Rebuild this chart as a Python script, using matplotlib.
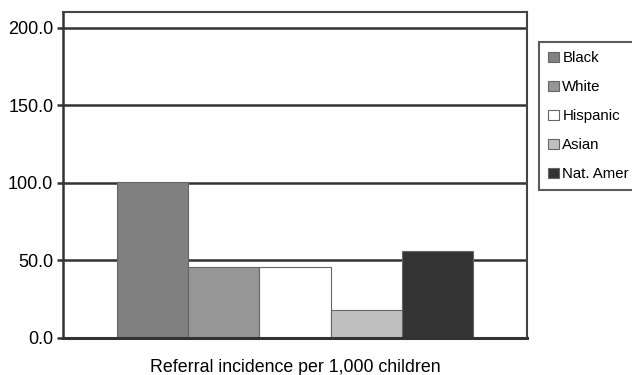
import matplotlib.pyplot as plt

groups = ['Black', 'White', 'Hispanic', 'Asian', 'Nat. Amer']
rates = [100.3, 45.6, 45.6, 18.0, 56.2]
colors = ['#808080', '#969696', '#ffffff', '#c0c0c0', '#333333']
yticks = [0, 50, 100, 150, 200]

plt.rcParams['font.family'] = ['Liberation Sans', 'DejaVu Sans']

fig = plt.figure(figsize=(6.32, 3.75), dpi=100)
ax = fig.add_axes([0.0997, 0.0987, 0.7343, 0.8693])

for i, (g, r, c) in enumerate(zip(groups, rates, colors)):
    ax.bar(i, r, width=1.0, color=c, edgecolor='#666666', linewidth=0.8,
           label=g, zorder=3)

ax.set_xlim(-1.26, 5.26)
ax.set_ylim(0, 210)
ax.set_yticks(yticks)
ax.set_yticklabels([f'{v:.1f}' for v in yticks], fontsize=13)
ax.set_xticks([])
ax.yaxis.grid(True, color='#333333', linewidth=1.8, zorder=1)
ax.tick_params(axis='y', length=4, width=1.8, color='#333333', pad=3)

for s in ['top', 'right']:
    ax.spines[s].set_color('#444444')
    ax.spines[s].set_linewidth(1.5)
ax.spines['left'].set_color('#333333')
ax.spines['left'].set_linewidth(1.8)
ax.spines['bottom'].set_color('#333333')
ax.spines['bottom'].set_linewidth(2.2)
ax.spines['bottom'].set_zorder(4)

ax.set_xlabel('Referral incidence per 1,000 children', fontsize=12.8, labelpad=15)

leg = ax.legend(loc='upper left', bbox_to_anchor=(0.853, 0.888),
                bbox_transform=fig.transFigure, fontsize=10.8,
                frameon=True, fancybox=False, handlelength=0.7,
                handleheight=0.7, handletextpad=0.25, labelspacing=1.0,
                borderpad=0.6, borderaxespad=0)
leg.get_frame().set_edgecolor('#333333')
leg.get_frame().set_linewidth(1.5)

fig.savefig('out.png', dpi=100)
